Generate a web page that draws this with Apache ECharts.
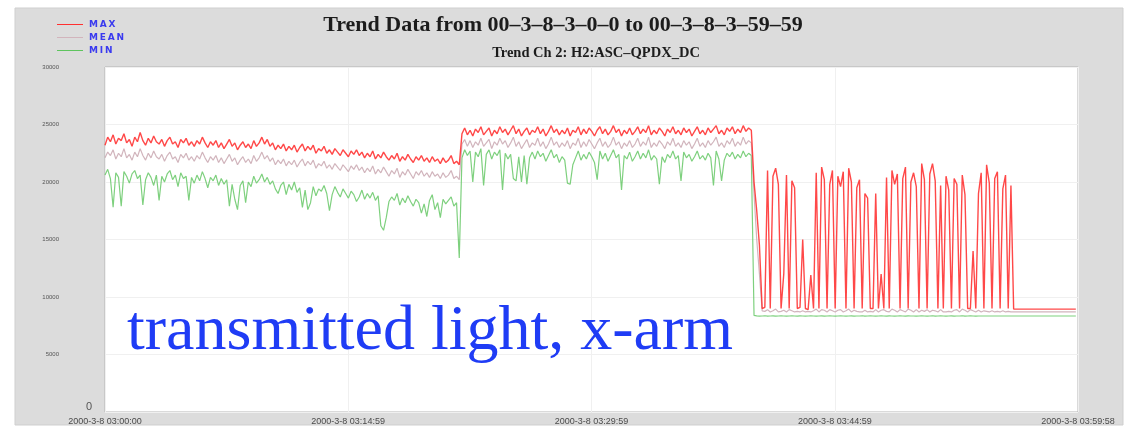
<!DOCTYPE html>
<html>
<head>
<meta charset="utf-8">
<title>Trend Ch 2: H2:ASC-QPDX_DC</title>
<script src="https://cdn.jsdelivr.net/npm/echarts@6/dist/echarts.min.js"></script>
<style>
  html, body { margin: 0; padding: 0; background: #ffffff; }
  #chart { width: 1134px; height: 427px; }
</style>
</head>
<body>
<div id="chart"></div>
<script>
// Trend channel 2 (H2:ASC-QPDX_DC), one hour on 2000-3-8, 10 s trend samples.
const SAMPLE_STEP_S = 10;
const X_TICKS = [0, 899, 1799, 2699, 3598];
const X_TICK_LABELS = ['2000-3-8 03:00:00', '2000-3-8 03:14:59', '2000-3-8 03:29:59', '2000-3-8 03:44:59', '2000-3-8 03:59:58'];
const Y_MAX = 30000;
const Y_STEP = 5000;
const SERIES_NAMES = ['MAX', 'MEAN', 'MIN'];

// 03:00:00 - 03:21:50, arm locked, slow drift down
const maxLocked1 = [
  23200, 23900, 23500, 24100, 23300, 23800, 23600, 24200, 23400, 23700, 23100, 23900, 23500, 24300, 23600, 23200, 23800, 23400, 24000, 23500,
  23300, 23700, 23100, 23600, 23900, 23300, 23500, 23000, 23700, 23400, 23800, 23200, 23500, 23100, 23600, 23300, 23900, 23400, 23000, 23500,
  23200, 23600, 23000, 23400, 22900, 23300, 23700, 23100, 23400, 22800, 23200, 23500, 23000, 23300, 22900, 23600, 23100, 23400, 23900, 23300,
  23700, 23100, 23400, 22800, 23200, 22900, 23300, 22700, 23100, 22800, 23200, 22600, 23000, 23300, 22700, 23100, 22800, 23200, 22500, 22900,
  22700, 23100, 22500, 22800, 22400, 22900, 22600, 22300, 22800, 22500, 22200, 22700, 22400, 22800, 22300, 22600, 22100, 22500, 22200, 22700,
  22000, 22400, 22100, 22600, 22200, 21900, 22300, 22000, 22500, 21800, 22200, 21900, 22400, 22000, 21700, 22200, 21900, 22300, 21800, 22100,
  21700, 22200, 21800, 22000, 21600, 22100, 21700, 21900, 22300, 21600, 21800, 21500
];
const meanLocked1 = [
  22100, 22600, 22300, 22800, 22000, 22500, 22200, 22900, 22100, 22400, 21900, 22600, 22200, 22900, 22300, 21900, 22500, 22100, 22700, 22200,
  22000, 22400, 21800, 22300, 22600, 22000, 22200, 21700, 22400, 22100, 22500, 21900, 22200, 21800, 22300, 22000, 22600, 22100, 21700, 22200,
  21900, 22300, 21700, 22100, 21600, 22000, 22400, 21800, 22100, 21500, 21900, 22200, 21700, 22000, 21600, 22300, 21800, 22100, 22600, 22000,
  22300, 21800, 22100, 21500, 21900, 21600, 22000, 21400, 21800, 21500, 21900, 21300, 21700, 22000, 21400, 21800, 21500, 21900, 21200, 21600,
  21400, 21800, 21200, 21500, 21100, 21600, 21300, 21000, 21500, 21200, 20900, 21400, 21100, 21500, 21000, 21300, 20800, 21200, 20900, 21400,
  20700, 21100, 20800, 21300, 20900, 20500, 21000, 20700, 21200, 20400, 20900, 20600, 21100, 20700, 20300, 20900, 20600, 21000, 20500, 20800,
  20400, 20900, 20500, 20700, 20300, 20800, 20400, 20600, 21000, 20300, 20500, 20200
];
const minLocked1 = [
  20600, 21100, 20300, 17800, 20800, 20400, 17900, 20900, 20500, 19900, 20700, 21000, 20300, 20600, 18000, 20200, 20800, 20400, 19700, 20600,
  18400, 20500, 20000, 20700, 21000, 20200, 20600, 19600, 20800, 20300, 20500, 18400, 20400, 19900, 20600, 20100, 20900, 20300, 19500, 20400,
  20100, 20600, 19700, 20300, 19800, 20200, 17900, 19800, 18500, 17600, 19700, 20100, 18200, 20000, 19600, 20500, 19900, 20200, 20700, 20000,
  20400, 19800, 20100, 19400, 19000, 19700, 20000, 18900, 19800, 19300, 20000, 19100, 19500, 17800, 19300, 17600, 18200, 19600, 18800, 19400,
  19200, 19700, 19000, 17500, 18900, 19600, 19100, 18700, 19400, 19000, 18600, 19200, 18900, 18300, 18700, 19300, 18500, 19000, 18600, 19100,
  18400, 18800, 16200, 15800, 16900, 18300, 18700, 18400, 19000, 18000, 18600, 18200, 18800, 18300, 17900, 18500, 18200, 17300, 18100, 17000,
  18400, 18900, 17600, 18200, 16900, 18500, 18100, 18400, 18700, 17900, 18200, 13400
];

// 03:22:00 - 03:39:50, locked at higher power
const maxLocked2 = [
  24200, 24700, 24100, 24500, 24000, 24600, 24300, 24800, 24100, 24400, 24700, 24000, 24500, 24200, 24800, 24300, 24600, 24100, 24500, 24900,
  24200, 24600, 24000, 24400, 24700, 24100, 24500, 24300, 24800, 24200, 24600, 24000, 24400, 24900, 24300, 24600, 24100, 24500, 24200, 24700,
  24000, 24500, 24300, 24800, 24100, 24600, 24200, 24700, 24400, 24000, 24500, 24800, 24200, 24600, 24100, 24400, 24900, 24300, 24600, 24000,
  24500, 24200, 24700, 24100, 24400, 24800, 24200, 24600, 24300, 24900, 24100, 24500, 24200, 24700, 24400, 24000, 24600, 24300, 24800, 24200,
  24500, 24100, 24700, 24300, 24600, 24000, 24400, 24800, 24200, 24500, 24100, 24700, 24300, 24600, 24900, 24200, 24500, 24100, 24700, 24400,
  24800, 24200, 24600, 24300, 24900, 24400, 24700, 24500
];
const meanLocked2 = [
  23300, 23700, 23100, 23600, 23000, 23500, 23200, 23800, 23100, 23400, 23700, 22900, 23500, 23200, 23800, 23300, 23600, 23000, 23400, 23900,
  23100, 23500, 22900, 23300, 23700, 23000, 23400, 23200, 23800, 23100, 23500, 22900, 23300, 23900, 23200, 23500, 23000, 23400, 23100, 23600,
  22900, 23400, 23200, 23800, 23000, 23500, 23100, 23700, 23300, 22900, 23400, 23800, 23100, 23500, 23000, 23300, 23900, 23200, 23500, 22900,
  23400, 23100, 23600, 23000, 23300, 23800, 23100, 23500, 23200, 23900, 23000, 23400, 23100, 23600, 23300, 22900, 23500, 23200, 23800, 23100,
  23400, 23000, 23600, 23200, 23500, 22900, 23300, 23800, 23100, 23400, 23000, 23600, 23200, 23500, 23900, 23100, 23400, 23000, 23600, 23300,
  23800, 23100, 23500, 23200, 23900, 23300, 23600, 23400
];
const minLocked2 = [
  22100, 22800, 22300, 22700, 20000, 22600, 22200, 22900, 19700, 22400, 22800, 22000, 22600, 22300, 22800, 19300, 22500, 22000, 22400, 20300,
  20100, 22200, 20000, 22300, 19800, 22100, 22600, 22000, 22700, 22200, 22500, 21800, 22300, 22800, 22100, 22400, 21700, 22200, 21900, 19900,
  19800, 21500, 22100, 22700, 21900, 22400, 22000, 22600, 22200, 21700, 20200, 22700, 22000, 22500, 21800, 22300, 22800, 22100, 22400, 19300,
  22300, 22000, 22600, 21800, 22200, 22700, 22000, 22500, 22100, 22800, 21900, 22300, 22000, 19800, 22200, 21700, 22400, 22100, 22700, 22000,
  22300, 20100, 22600, 22100, 22400, 21800, 22200, 22700, 22000, 22300, 21900, 22500, 22100, 19700, 22700, 22000, 20100, 21900, 22500, 22200,
  22600, 22000, 22400, 22100, 22700, 22200, 22500, 22300
];

// 03:40:00 - 03:59:50, lock lost: MAX flashes, MEAN/MIN sit at the dark level
const maxUnlocked = [
  20000, 17500, 14500, 9000, 9100,
  21000, 9000, 20500, 21200, 19800,
  9000, 12000,
  20600, 9000, 20100, 19500,
  9000, 9100, 15000, 9000, 8900, 11900, 9000,
  20800, 9000, 21300, 20200, 9000, 19800, 21000, 9000, 20500, 19600, 20900, 9000, 21200, 20000, 9000,
  19500, 20200, 9000, 19000, 18600, 9000,
  9000, 19000, 9000, 12000, 9000,
  20400, 9000, 21000, 19800, 20700, 9000, 20300, 21300, 9000, 20000, 20800, 19600, 9000, 21600, 20200, 9000, 20700,
  21600, 20100, 9000, 19700, 9000, 20500, 19300,
  9000, 20300, 19800, 9000, 20600, 18900,
  9000, 9000, 14000, 9000, 19000,
  20800, 9000, 21500, 19900, 9000, 20300, 20900, 9000, 19400, 20600, 9000, 19700,
  8950, 8950, 8950, 8950, 8950, 8950, 8950, 8950, 8950, 8950, 8950, 8950,
  8950, 8950, 8950, 8950, 8950, 8950, 8950, 8950, 8950, 8950, 8950, 8950
];
const meanUnlocked = [
  19000, 15000, 12000, 8800,
  8750, 8900, 8700, 8800, 8950, 8700, 8750, 8850, 8700, 8900, 8800, 8700,
  8750, 8700, 8800, 8700, 8750, 8700, 8800, 8950, 8700, 8900, 8850, 8700,
  8900, 8800, 8700, 8850, 8900, 8700, 8800, 8950, 8700, 8850, 8750, 8700,
  8700, 8850, 8700, 8750, 8700, 8900, 8700, 8850, 8900, 8750, 8700, 8950,
  8850, 8700, 8900, 8800, 8700, 8950, 8850, 8700, 8900, 8700, 8850, 8750,
  8900, 8700, 8850, 8800, 8700, 8900, 8700, 8700, 8750, 8700, 8850, 8900,
  8700, 8950, 8850, 8700, 8900, 8800, 8700, 8850, 8700, 8800,
  8750, 8700, 8800, 8700, 8750, 8700, 8800, 8700, 8750, 8700,
  8700, 8700, 8700, 8700, 8700, 8700, 8700, 8700, 8700, 8700, 8700, 8700,
  8700, 8700, 8700, 8700, 8700, 8700, 8700, 8700, 8700, 8700, 8700, 8700
];
const minUnlocked = [
  8400, 8360, 8340, 8350, 8370, 8340, 8350, 8360, 8340, 8350, 8360, 8350,
  8340, 8350, 8370, 8350, 8340, 8360, 8350, 8340, 8350, 8360, 8350, 8340,
  8350, 8360, 8340, 8350, 8370, 8350, 8340, 8350, 8360, 8350, 8340, 8350,
  8360, 8340, 8350, 8350, 8370, 8340, 8350, 8360, 8350, 8340, 8350, 8360,
  8350, 8340, 8360, 8350, 8340, 8350, 8370, 8350, 8340, 8360, 8350, 8350,
  8340, 8350, 8360, 8350, 8340, 8350, 8370, 8340, 8350, 8360, 8350, 8340,
  8350, 8360, 8340, 8350, 8350, 8370, 8340, 8350, 8360, 8350, 8340, 8350,
  8350, 8350, 8350, 8350, 8350, 8350, 8350, 8350, 8350, 8350, 8350, 8350,
  8350, 8350, 8350, 8350, 8350, 8350, 8350, 8350, 8350, 8350, 8350, 8350,
  8350, 8350, 8350, 8350, 8350, 8350, 8350, 8350, 8350, 8350, 8350, 8350
];

const maxValues = maxLocked1.concat(maxLocked2, maxUnlocked);
const meanValues = meanLocked1.concat(meanLocked2, meanUnlocked);
const minValues = minLocked1.concat(minLocked2, minUnlocked);

function toPoints(values) {
  return values.map((v, i) => [i * SAMPLE_STEP_S, v]);
}

const chart = echarts.init(document.getElementById('chart'), null, { renderer: 'canvas' });

const GRID = { left: 105, right: 56, top: 67, bottom: 15 };

chart.setOption({
  backgroundColor: '#ffffff',
  animation: false,
  graphic: [
    {
      type: 'rect',
      silent: true,
      z: -10,
      shape: { x: 15, y: 8, width: 1108, height: 417 },
      style: { fill: '#dcdcdc', stroke: '#cfcfcf', lineWidth: 1 }
    },
    {
      type: 'text',
      silent: true,
      z: 50,
      left: 127,
      top: 300,
      style: {
        text: 'transmitted light, x-arm',
        fill: '#1f3cf5',
        font: '64px "Liberation Serif", "DejaVu Serif", serif'
      }
    }
  ],
  title: [
    {
      text: 'Trend Data from 00\u20133\u20138\u20133\u20130\u20130 to 00\u20133\u20138\u20133\u201359\u201359',
      left: 558,
      top: 9,
      textAlign: 'center',
      textStyle: { fontFamily: '"Liberation Serif", serif', fontWeight: 'bold', fontSize: 22, color: '#1c1c1c' }
    },
    {
      text: 'Trend Ch 2: H2:ASC\u2013QPDX_DC',
      left: 591,
      top: 41,
      textAlign: 'center',
      textStyle: { fontFamily: '"Liberation Serif", serif', fontWeight: 'bold', fontSize: 14.5, color: '#1c1c1c' }
    }
  ],
  legend: {
    data: SERIES_NAMES,
    orient: 'vertical',
    left: 52,
    top: 14,
    itemGap: 2,
    itemWidth: 26,
    itemHeight: 1,
    icon: 'rect',
    selectedMode: false,
    formatter: name => name.split('').join('\u2009'),
    textStyle: { color: '#3a3aef', fontWeight: 'bold', fontSize: 9, lineHeight: 11, fontFamily: '"DejaVu Sans", sans-serif', padding: [0, 0, 0, 1] }
  },
  grid: {
    left: GRID.left, right: GRID.right, top: GRID.top, bottom: GRID.bottom,
    show: true,
    backgroundColor: '#ffffff',
    borderColor: '#b4b4b4',
    borderWidth: 1
  },
  xAxis: {
    type: 'value',
    min: X_TICKS[0],
    max: X_TICKS[X_TICKS.length - 1],
    axisLine: { show: false },
    axisTick: { show: false, customValues: X_TICKS },
    splitLine: { show: true, lineStyle: { color: '#f0f0f0', width: 1 } },
    axisLabel: {
      customValues: X_TICKS,
      formatter: v => X_TICK_LABELS[X_TICKS.indexOf(v)],
      color: '#4a4a4a',
      fontSize: 9,
      fontFamily: '"Liberation Sans", sans-serif',
      margin: 5,
      showMinLabel: true,
      showMaxLabel: true
    }
  },
  yAxis: [
    {
      type: 'value',
      min: 0,
      max: Y_MAX,
      interval: Y_STEP,
      axisLine: { show: false },
      axisTick: { show: false },
      splitLine: { show: true, lineStyle: { color: '#f0f0f0', width: 1 } },
      axisLabel: {
        formatter: v => (v === 0 ? '' : String(v)),
        color: '#555555',
        fontSize: 6,
        margin: 46,
        fontFamily: '"Liberation Sans", sans-serif'
      }
    },
    {
      type: 'value',
      min: 0,
      max: Y_MAX,
      interval: Y_MAX,
      position: 'left',
      axisLine: { show: false },
      axisTick: { show: false },
      splitLine: { show: false },
      axisLabel: {
        formatter: v => (v === 0 ? '0' : ''),
        color: '#555555',
        fontSize: 11,
        margin: 13,
        verticalAlign: 'bottom',
        fontFamily: '"Liberation Sans", sans-serif'
      }
    }
  ],
  series: [
    {
      name: 'MIN', type: 'line', showSymbol: false, symbol: 'none', z: 2,
      data: toPoints(minValues),
      color: '#5ec45e',
      lineStyle: { width: 1.2, color: '#5ec45e', opacity: 0.8 }
    },
    {
      name: 'MEAN', type: 'line', showSymbol: false, symbol: 'none', z: 3,
      data: toPoints(meanValues),
      color: '#d2b4bc',
      lineStyle: { width: 1.2, color: '#c9a7b0', opacity: 0.85 }
    },
    {
      name: 'MAX', type: 'line', showSymbol: false, symbol: 'none', z: 4,
      data: toPoints(maxValues),
      color: '#ff3030',
      lineStyle: { width: 1.4, color: '#ff2828', opacity: 0.85 }
    }
  ]
});
</script>
</body>
</html>
